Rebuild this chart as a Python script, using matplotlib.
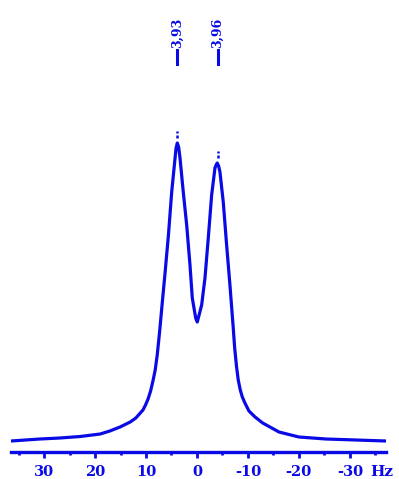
import matplotlib.pyplot as plt

# espectro leido punto a punto: desplazamiento (Hz) e intensidad (u.a.)
hz = [36.5, 30.8, 26.9, 22.9, 19.0, 17.1, 15.1, 13.1, 12.0, 10.6, 10.1, 9.6,
      9.1, 8.6, 8.2, 7.8, 7.3, 6.8, 6.3, 5.6, 4.96, 4.3, 4.1, 3.86, 3.6,
      3.33, 2.69, 2.02, 1.37, 0.92, 0.25, -0.06, -0.92, -1.57, -2.22, -2.88,
      -3.53, -3.75, -3.98, -4.25, -4.51, -5.16, -5.82, -6.47, -7.12, -7.4,
      -7.75, -8.1, -8.5, -8.9, -9.41, -10.2, -11.4, -12.9, -16.1, -20.0,
      -25.3, -31.2, -37.1]
intens = [11, 13, 14, 15.5, 18, 21, 25, 30, 34, 42, 47, 53,
          61, 72, 82, 97, 122, 150, 177, 217, 260, 294, 304, 309, 305,
          294, 260, 227, 187, 154, 134, 130, 147, 174, 214, 257,
          284, 287, 289, 286, 280, 250, 207, 167, 124, 104,
          86, 72, 62, 55, 49, 41, 35, 29, 20, 15,
          13, 12, 11]

picos_hz = [3.9, -4.1]
picos_int = [309, 289]
picos_ppm = ['3,93', '3,96']

ticks_hz = [30, 20, 10, 0, -10, -20, -30]
ticks_menores = [35, 25, 15, 5, -5, -15, -25, -35]

azul = '#0a0ae6'
fuente = 'DejaVu Serif'

fig = plt.figure(figsize=(3.99, 4.79), dpi=100)
ax = fig.add_axes([11 / 399, 27 / 479, 375 / 399, 452 / 479])

ax.plot(hz, intens, color=azul, lw=2.3, solid_joinstyle='round')

# marcas sobre los picos y etiquetas en ppm
for x, y, txt in zip(picos_hz, picos_int, picos_ppm):
    ax.plot([x, x], [y + 5, y + 12], color=azul, lw=1.8, ls=(0, (1.2, 0.8)))
    ax.plot([x, x], [388, 402], color=azul, lw=2.2)
    ax.text(x, 404, txt, rotation=90, ha='center', va='bottom', color=azul,
            fontsize=9, fontweight='bold', family=fuente)

ax.set_xlim(36.5, -37.1)
ax.set_ylim(0, 452)

for s in ['top', 'left', 'right']:
    ax.spines[s].set_visible(False)
ax.spines['bottom'].set_color(azul)
ax.spines['bottom'].set_linewidth(2.4)
ax.set_yticks([])
ax.set_xticks(ticks_hz)
ax.set_xticks(ticks_menores, minor=True)
ax.set_xticklabels([str(t) for t in ticks_hz], color=azul, fontsize=10.5,
                   fontweight='bold', family=fuente)
ax.tick_params(axis='x', which='major', direction='out', length=4, width=2,
               color=azul, pad=5.5)
ax.tick_params(axis='x', which='minor', direction='out', length=2.5, width=2,
               color=azul)
fig.text(382 / 399, 7.5 / 479, 'Hz', ha='center', va='center', color=azul,
         fontsize=11, fontweight='bold', family=fuente)

fig.savefig('out.png', dpi=100)
